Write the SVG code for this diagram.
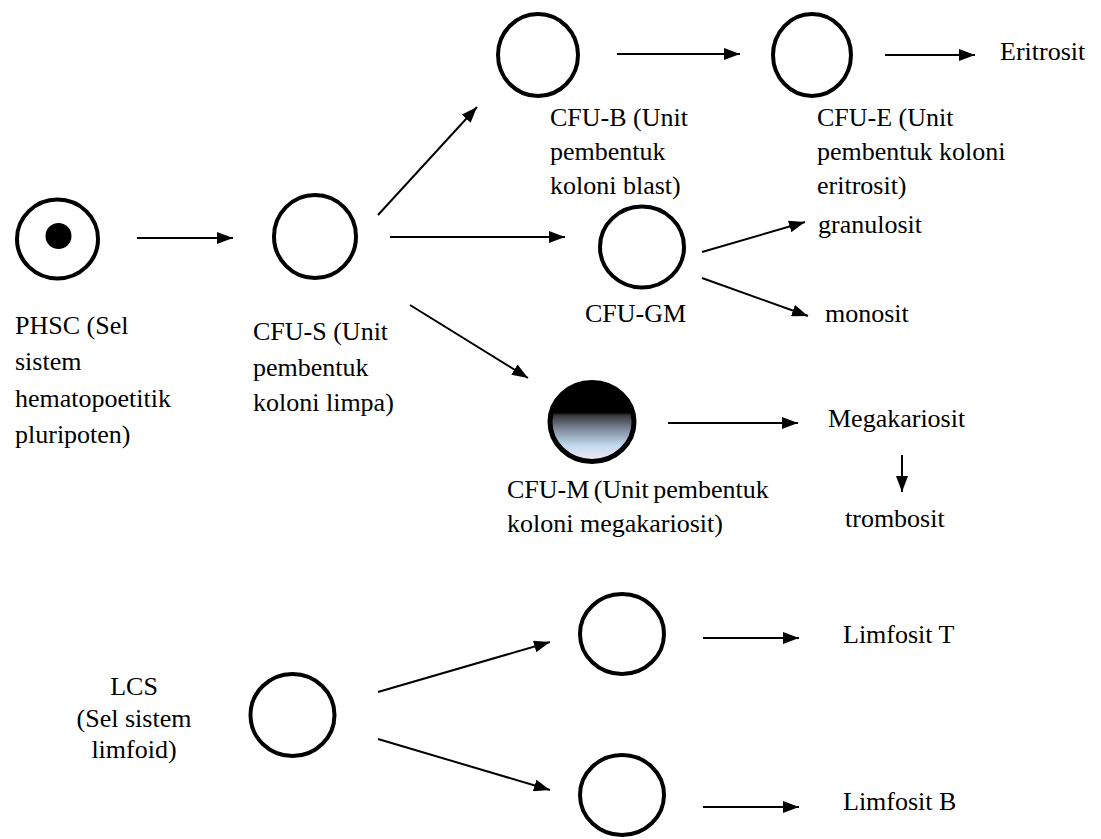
<svg xmlns="http://www.w3.org/2000/svg" width="1101" height="839" viewBox="0 0 1101 839">
<style>
  .cell { fill: none; stroke: #000; stroke-width: 4; }
  .lbl { font-family: "Liberation Serif", "Times New Roman", serif; font-size: 26px; fill: #000; }
  .conn line { stroke: #000; stroke-width: 2; marker-end: url(#arr); }
</style>
<defs>
  <marker id="arr" markerUnits="userSpaceOnUse" markerWidth="16" markerHeight="12" refX="16" refY="6" orient="auto">
    <path d="M0,0 L16,6 L0,12 z" fill="#000"/>
  </marker>
  <linearGradient id="gradM" x1="0" y1="0" x2="0" y2="1">
    <stop offset="0" stop-color="#000"/>
    <stop offset="0.38" stop-color="#000"/>
    <stop offset="0.42" stop-color="#3c3c40"/>
    <stop offset="0.62" stop-color="#8796a8"/>
    <stop offset="0.8" stop-color="#c2daee"/>
    <stop offset="1" stop-color="#f6e8f4"/>
  </linearGradient>
</defs>
<rect width="1101" height="839" fill="#fff"/>

<g id="phsc">
  <ellipse class="cell" cx="57.5" cy="239" rx="40.5" ry="39.5"/>
  <circle cx="58.5" cy="236" r="13" fill="#000"/>
  <text class="lbl" x="15" y="334">PHSC (Sel</text>
  <text class="lbl" x="15" y="370">sistem</text>
  <text class="lbl" x="15" y="407">hematopoetitik</text>
  <text class="lbl" x="15" y="443">pluripoten)</text>
</g>

<g id="cfu-s">
  <ellipse class="cell" cx="315" cy="236.5" rx="41" ry="41.5"/>
  <text class="lbl" x="253" y="340">CFU-S (Unit</text>
  <text class="lbl" x="253" y="376">pembentuk</text>
  <text class="lbl" x="253" y="411">koloni limpa)</text>
</g>

<g id="cfu-b">
  <ellipse class="cell" cx="538" cy="55" rx="40" ry="41"/>
  <text class="lbl" x="550" y="126">CFU-B (Unit</text>
  <text class="lbl" x="550" y="160">pembentuk</text>
  <text class="lbl" x="550" y="194">koloni blast)</text>
</g>

<g id="cfu-e">
  <ellipse class="cell" cx="812" cy="55" rx="39" ry="41"/>
  <text class="lbl" x="817" y="126">CFU-E (Unit</text>
  <text class="lbl" x="817" y="160">pembentuk koloni</text>
  <text class="lbl" x="817" y="194">eritrosit)</text>
</g>

<g id="eritrosit">
  <text class="lbl" x="1000" y="60">Eritrosit</text>
</g>

<g id="cfu-gm">
  <ellipse class="cell" cx="642" cy="247" rx="42" ry="40.5"/>
  <text class="lbl" x="585" y="322">CFU-GM</text>
</g>

<g id="granulosit">
  <text class="lbl" x="818" y="233">granulosit</text>
</g>
<g id="monosit">
  <text class="lbl" x="825" y="322">monosit</text>
</g>

<g id="cfu-m">
  <ellipse cx="592" cy="422" rx="42" ry="39.5" fill="url(#gradM)" stroke="#000" stroke-width="5"/>
  <text class="lbl" x="507" y="498" word-spacing="-2">CFU-M (Unit pembentuk</text>
  <text class="lbl" x="507" y="532">koloni megakariosit)</text>
</g>

<g id="megakariosit">
  <text class="lbl" x="828" y="427">Megakariosit</text>
</g>
<g id="trombosit">
  <text class="lbl" x="845" y="527">trombosit</text>
</g>

<g id="lcs">
  <ellipse class="cell" cx="292.5" cy="715" rx="42" ry="41"/>
  <text class="lbl" x="134" y="695" text-anchor="middle">LCS</text>
  <text class="lbl" x="134" y="727" text-anchor="middle">(Sel sistem</text>
  <text class="lbl" x="134" y="758" text-anchor="middle">limfoid)</text>
</g>

<g id="cell-t">
  <ellipse class="cell" cx="622" cy="634" rx="42" ry="40"/>
</g>
<g id="cell-b">
  <ellipse class="cell" cx="622" cy="795" rx="42" ry="40"/>
</g>
<g id="limfosit-t">
  <text class="lbl" x="843" y="643">Limfosit T</text>
</g>
<g id="limfosit-b">
  <text class="lbl" x="843" y="810">Limfosit B</text>
</g>

<g id="connectors" class="conn">
  <line x1="137" y1="238" x2="233" y2="238"/>
  <line x1="378" y1="215" x2="477" y2="107"/>
  <line x1="390" y1="237" x2="565" y2="237"/>
  <line x1="410" y1="305" x2="528" y2="378"/>
  <line x1="617" y1="54" x2="740" y2="54"/>
  <line x1="885" y1="55" x2="975" y2="55"/>
  <line x1="702" y1="252" x2="805" y2="222"/>
  <line x1="702" y1="278" x2="808" y2="316"/>
  <line x1="668" y1="423" x2="798" y2="423"/>
  <line x1="902" y1="455" x2="902" y2="492"/>
  <line x1="378" y1="692" x2="550" y2="642"/>
  <line x1="378" y1="739" x2="550" y2="790"/>
  <line x1="703" y1="638" x2="799" y2="638"/>
  <line x1="703" y1="807" x2="799" y2="807"/>
</g>
</svg>
